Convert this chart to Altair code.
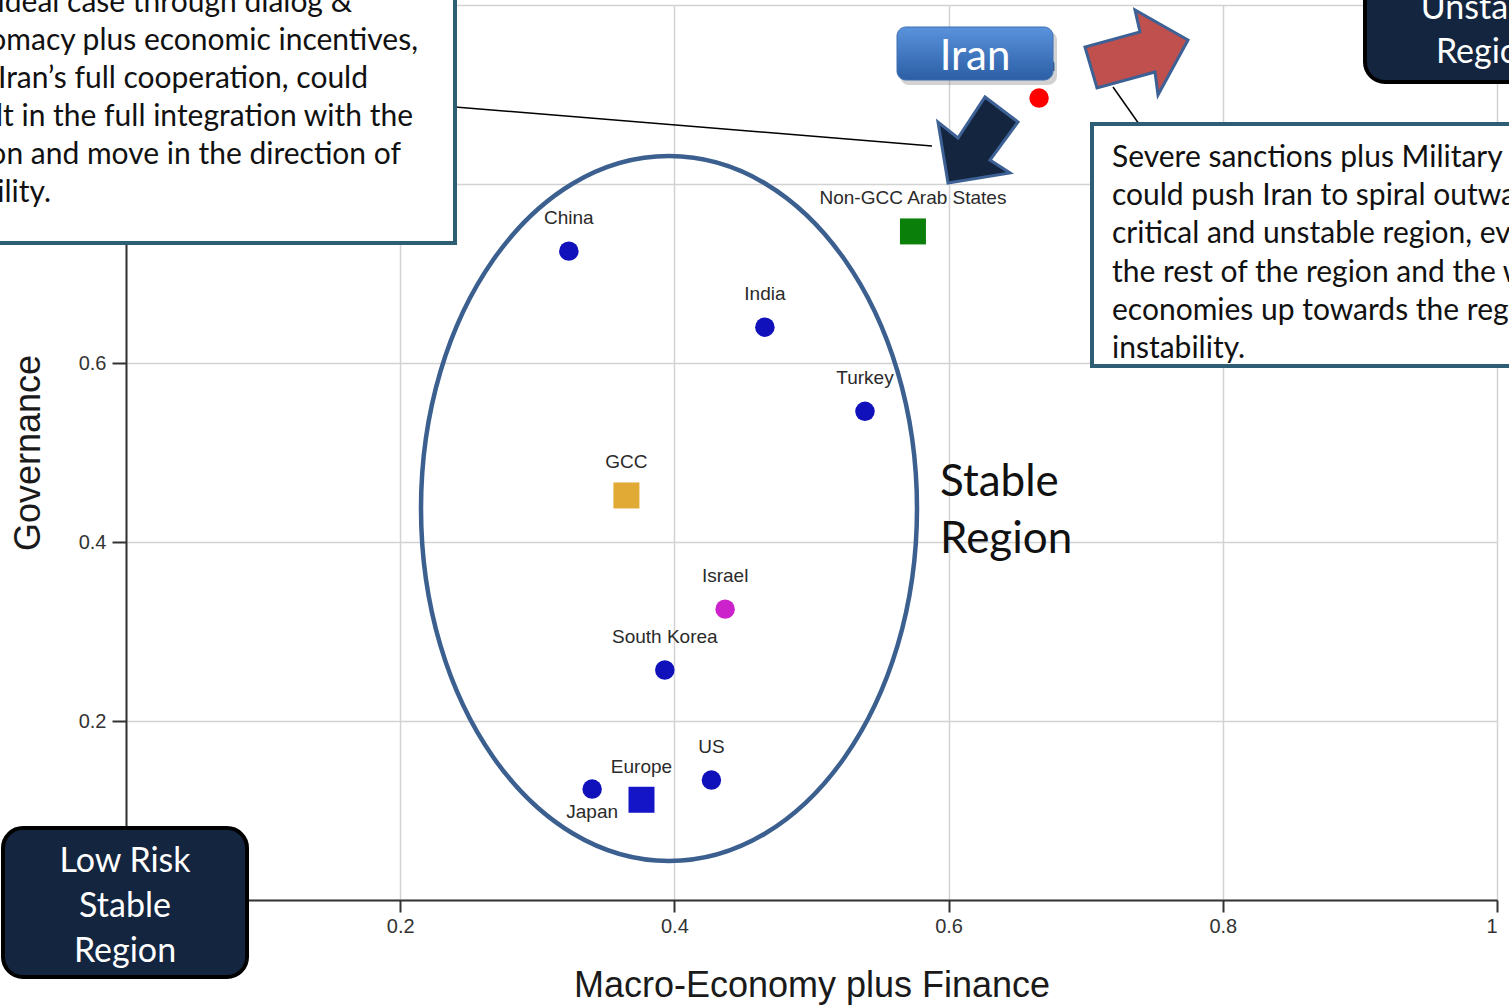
import altair as alt
import pandas as pd

# ---------------- data ----------------
countries = ["China", "India", "Turkey", "GCC", "Israel", "South Korea", "US",
             "Japan", "Europe", "Non-GCC Arab States", "Iran"]
macro_finance = [0.323, 0.466, 0.539, 0.365, 0.437, 0.393, 0.427, 0.340, 0.376, 0.574, 0.666]
governance = [0.725, 0.640, 0.546, 0.452, 0.325, 0.257, 0.134, 0.124, 0.112, 0.747, 0.896]
marker_shapes = ["circle", "circle", "circle", "square", "circle", "circle", "circle",
                 "circle", "square", "square", "circle"]
marker_colors = ["#1111bb", "#1111bb", "#1111bb", "#e0aa35", "#cc22cc", "#1111bb", "#1111bb",
                 "#1111bb", "#1515c8", "#0a800a", "#ff0000"]
label_side = ["above", "above", "above", "above", "above", "above", "above",
              "below", "above", "above", "above"]
axis_ticks = [0, 0.2, 0.4, 0.6, 0.8, 1.0]

x_title = "Macro-Economy plus Finance"
y_title = "Governance"

left_box_lines = [
    "The ideal case through dialog &",
    "diplomacy plus economic incentives,",
    "with Iran\u2019s full cooperation, could",
    "result in the full integration with the",
    "region and move in the direction of",
    "stability.",
]
right_box_lines = [
    "Severe sanctions plus Military Strike",
    "could push Iran to spiral outward to a",
    "critical and unstable region, even pulling",
    "the rest of the region and the world",
    "economies up towards the region of",
    "instability.",
]
low_risk_lines = ["Low Risk", "Stable", "Region"]
high_risk_lines = ["High Risk", "Unstable", "Region"]
stable_lines = ["Stable", "Region"]
iran_tag = "Iran"

# ---------------- layout helpers ----------------
PL, PT = 126, 5          # plot origin on the page
W, H = 1371, 895         # plot area


def px(x):
    return x - PL


def py(y):
    return y - PT


one = pd.DataFrame({"k": [0]})

df = pd.DataFrame({
    "name": countries,
    "x": macro_finance,
    "y": governance,
    "shape": marker_shapes,
    "color": marker_colors,
    "side": label_side,
})
df["size"] = [676 if s == "square" else 380 for s in marker_shapes]

LABEL_FONT = "Liberation Sans"
BOX_FONT = "Lato"

X = alt.X("x:Q", scale=alt.Scale(domain=[0, 1], nice=False, zero=False),
          axis=alt.Axis(values=axis_ticks, format="~g", title=x_title,
                        labelExpr="datum.value == 0 ? '' : datum.label",
                        titleX=W / 2, titleY=85, titleBaseline="middle", titleAlign="center",
                        tickSize=12, labelPadding=4))
Y = alt.Y("y:Q", scale=alt.Scale(domain=[0, 1], nice=False, zero=False),
          axis=alt.Axis(values=axis_ticks, format="~g", title=y_title,
                        labelExpr="(datum.value == 0 || datum.value > 0.7) ? '' : datum.label",
                        titleX=-98, titleY=H / 2, titleAngle=270, titleBaseline="middle",
                        titleAlign="center", tickSize=14, labelPadding=6))


def box(x1, y1, x2, y2, **kw):
    return alt.Chart(one).mark_rect(**kw).encode(
        x=alt.value(px(x1)), x2=alt.value(px(x2)),
        y=alt.value(py(y1)), y2=alt.value(py(y2)))


def rule(x1, y1, x2, y2, **kw):
    return alt.Chart(one).mark_rule(**kw).encode(
        x=alt.value(px(x1)), x2=alt.value(px(x2)),
        y=alt.value(py(y1)), y2=alt.value(py(y2)))


def text(x, y, t, **kw):
    return alt.Chart(one).mark_text(**kw).encode(
        x=alt.value(px(x)), y=alt.value(py(y)), text=alt.value(t))


def shape(x, y, path, **kw):
    return alt.Chart(one).mark_point(shape=path, size=4, opacity=1, **kw).encode(
        x=alt.value(px(x)), y=alt.value(py(y)))


# ---------------- layers ----------------
points = alt.Chart(df).mark_point(filled=True, opacity=1).encode(
    x=X, y=Y,
    shape=alt.Shape("shape:N", scale=None),
    color=alt.Color("color:N", scale=None),
    size=alt.Size("size:Q", scale=None),
)

labels_above = alt.Chart(df).transform_filter(alt.datum.side == "above").mark_text(
    dy=-33, baseline="middle", font=LABEL_FONT, fontSize=19, color="#2a2a2a"
).encode(x=X, y=Y, text="name:N")

labels_below = alt.Chart(df).transform_filter(alt.datum.side == "below").mark_text(
    dy=23, baseline="middle", font=LABEL_FONT, fontSize=19, color="#2a2a2a"
).encode(x=X, y=Y, text="name:N")

a, b, k = 248, 352.5, 0.5523
ellipse_path = (f"M {a} 0 C {a} {b*k:.1f} {a*k:.1f} {b} 0 {b} "
                f"C {-a*k:.1f} {b} {-a} {b*k:.1f} {-a} 0 "
                f"C {-a} {-b*k:.1f} {-a*k:.1f} {-b} 0 {-b} "
                f"C {a*k:.1f} {-b} {a} {-b*k:.1f} {a} 0 Z")
ellipse = shape(669, 508.5, ellipse_path, filled=False, color="#3b5f8f",
                stroke="#3b5f8f", strokeWidth=4.5)

red_arrow_path = "M -50 -3 L -38 38 L 20 22 L 23 45 L 53 -10 L 0 -40 L 5 -18 Z"
navy_arrow_path = "M -27 43 L -37 -18 L -17 -2 L 10 -43 L 43 -18 L 15 20 L 35 33 Z"
red_arrow = shape(1135, 50, red_arrow_path, filled=True, color="#c0504d",
                  stroke="#3d6194", strokeWidth=3)
navy_arrow = shape(975, 140, navy_arrow_path, filled=True, color="#14253f",
                   stroke="#3d6194", strokeWidth=3)

conn1 = rule(455, 107, 932, 146, color="#000000", strokeWidth=1.5)
conn2 = rule(1113, 87, 1139, 124, color="#000000", strokeWidth=1.5)

left_box = box(-20, -20, 455, 243, fill="#ffffff", stroke="#2e5e73", strokeWidth=4)
right_box = box(1092, 124, 1580, 366, fill="#ffffff", stroke="#2e5e73", strokeWidth=4)

left_ends = [352, 418, 368, 413, 401, 51]
left_bases = [12, 50, 88, 126, 164, 202]
left_texts = [text(xe, yb, t, align="right", baseline="alphabetic", font=BOX_FONT,
                   fontSize=30, color="#111111")
              for t, xe, yb in zip(left_box_lines, left_ends, left_bases)]

right_text = text(1112, 167, right_box_lines, align="left", baseline="alphabetic",
                  font=BOX_FONT, fontSize=30, lineHeight=38.2, color="#111111")

low_box = box(3, 828, 247, 977, fill="#14253f", stroke="#000000", strokeWidth=4,
              cornerRadius=20)
low_text = text(125, 872, low_risk_lines, align="center", baseline="alphabetic",
                font=BOX_FONT, fontSize=34, lineHeight=45, color="#ffffff")

high_box = box(1365, -70, 1609, 82, fill="#14253f", stroke="#000000", strokeWidth=4,
               cornerRadius=20)
high_text = text(1487, -25, high_risk_lines, align="center", baseline="alphabetic",
                 font=BOX_FONT, fontSize=34, lineHeight=44, color="#ffffff")

iran_fill = alt.Gradient(
    gradient="linear",
    stops=[alt.GradientStop(color="#5a93dc", offset=0),
           alt.GradientStop(color="#2b5ea5", offset=1)],
    x1=0, x2=0, y1=0, y2=1)
iran_shadow = box(900, 31, 1057, 85, fill="#7f7f7f", opacity=0.35, cornerRadius=9)
iran_box = box(897, 27, 1053, 80, fill=iran_fill, stroke="#3f6fb0", strokeWidth=1,
               cornerRadius=9)
iran_text = text(975, 70, iran_tag, align="center", baseline="alphabetic",
                 font=BOX_FONT, fontSize=42, color="#ffffff")

stable_text = text(940, 496, stable_lines, align="left", baseline="alphabetic",
                   font=BOX_FONT, fontSize=44, lineHeight=57, color="#111111")

chart = alt.layer(
    ellipse, points, labels_above, labels_below,
    conn1, conn2,
    left_box, *left_texts, right_box, right_text,
    low_box, low_text, high_box, high_text,
    iran_shadow, iran_box, iran_text,
    red_arrow, navy_arrow, stable_text,
).properties(
    width=W, height=H,
    autosize=alt.AutoSizeParams(type="none"),
    padding={"left": PL, "top": PT, "right": 1509 - PL - W, "bottom": 1008 - PT - H},
    background="#ffffff",
).configure_view(
    strokeWidth=0
).configure_axis(
    domainColor="#333333", domainWidth=2,
    tickColor="#333333", tickWidth=2,
    labelFont=LABEL_FONT, labelFontSize=20, labelColor="#333333",
    gridColor="#d2d2d2", gridWidth=1.5,
    titleFont=LABEL_FONT, titleFontSize=36, titleFontWeight="normal", titleColor="#1a1a1a",
)

chart.save("out.html", embed_options={"renderer": "svg", "actions": False})
